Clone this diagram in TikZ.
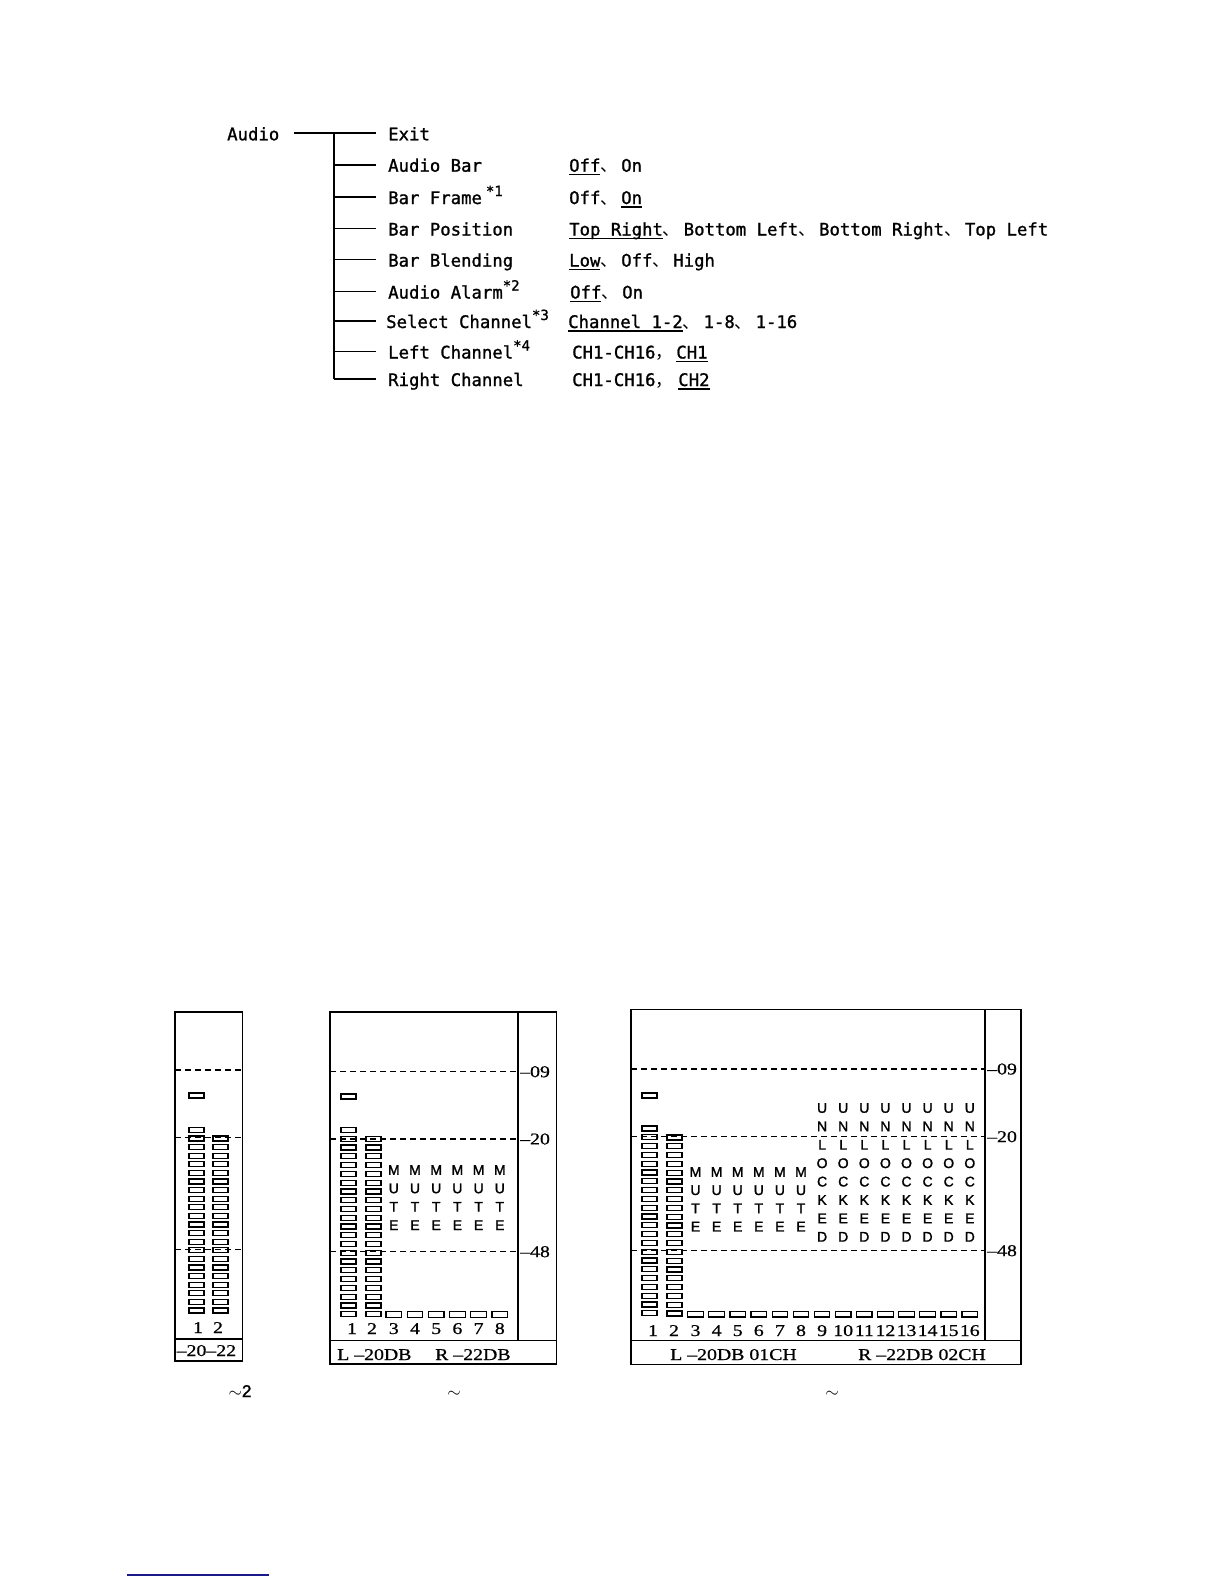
\documentclass[tikz,border=0pt]{standalone}
\usepackage{fontspec}
\usepackage{graphicx}
\newfontfamily\mono{DejaVu Sans Mono}[FakeBold=1.2]
\newfontfamily\cjk{Noto Sans CJK SC}
\newfontfamily\dser{Liberation Serif}[FakeBold=0.6]
\newfontfamily\dsans{Liberation Sans}[FakeBold=1.6]
\newcommand\ulx[1]{\leavevmode\setbox0\hbox{#1}\rlap{\rule[-3.6pt]{\wd0}{1.6pt}}\box0}
\newcommand\dun{\makebox[20.8pt][l]{\cjk 、}}
\newcommand\fcm{\makebox[20.8pt][l]{\cjk ，}}
\newcommand\sups[1]{\raisebox{8pt}{\fontsize{14}{14}\selectfont #1}}
\newcommand\dnum[1]{\scalebox{1.2}[1]{\dser\fontsize{16.5}{18}\selectfont #1}}
\definecolor{navyline}{RGB}{25,25,140}
\tikzset{
  menu/.style={font=\mono\fontsize{17.3}{20}\selectfont, inner sep=0, anchor=base west},
  tree/.style={line width=1.6pt},
  frame/.style={line width=1.3pt},
  dashln/.style={line width=1.1pt, dash pattern=on 6pt off 4pt},
  seg/.style={line width=1.2pt},
  num/.style={inner sep=0, anchor=base},
  lett/.style={inner sep=0, font=\dsans\fontsize{14}{14}\selectfont},
  scl/.style={inner sep=0, anchor=west},
  foot/.style={inner sep=0, anchor=base west},
}
\begin{document}
\begin{tikzpicture}[x=1pt,y=-1pt]
\useasboundingbox (0,0) rectangle (1224,1584);
\fill[white] (0,0) rectangle (1224,1584);

% ---------------- menu tree ----------------
\node[menu] (audio) at (227,140.3) {Audio};
\coordinate (h0) at (294,133.3);
\coordinate (j0) at (334,133.3);
\coordinate (jend) at (334,379);
\draw[tree] (h0) -- (376,133.3);
\draw[tree] (j0) -- (jend);
\foreach \yy [count=\n] in {164.7,197,228.5,259.6,291.5,321,351.5,379}{
  \coordinate (b\n) at (334,\yy);
  \coordinate (e\n) at (376,\yy);
  \draw[tree] (b\n) -- (e\n);
}
\node[menu] (exit) at (388,140.3) {Exit};
\node[menu] (l1) at (388,171.7) {Audio Bar};
\node[menu] (l2) at (388,204) {Bar Frame\hspace{4pt}\sups{*1}};
\node[menu] (l3) at (388,235.5) {Bar Position};
\node[menu] (l4) at (388,266.6) {Bar Blending};
\node[menu] (l5) at (388,298.5) {Audio Alarm\sups{*2}};
\node[menu] (l6) at (386,328) {Select Channel\sups{*3}};
\node[menu] (l7) at (388,358.5) {Left Channel\sups{*4}};
\node[menu] (l8) at (388,386) {Right Channel};

\node[menu] (v1) at (569,171.7) {\ulx{Off}\dun On};
\node[menu] (v2) at (569,204) {Off\dun\ulx{On}};
\node[menu] (v3) at (569,235.5) {\ulx{Top Right}\dun Bottom Left\dun Bottom Right\dun Top Left};
\node[menu] (v4) at (569,266.6) {\ulx{Low}\dun Off\dun High};
\node[menu] (v5) at (570,298.5) {\ulx{Off}\dun On};
\node[menu] (v6) at (568,328) {\ulx{Channel 1-2}\dun 1-8\dun 1-16};
\node[menu] (v7) at (572,358.5) {CH1-CH16\fcm\ulx{CH1}};
\node[menu] (v8) at (572,386) {CH1-CH16\fcm\hspace{2pt}\ulx{CH2}};

% ---------------- diagram 1 ----------------
\draw[frame] (175,1012) rectangle (242.5,1361);
\draw[frame] (175,1339) -- (242.5,1339);
\foreach \yy in {1070,1137.5,1249.6}{ \draw[dashln] (175,\yy) -- (242.5,\yy); }
\draw[seg] (189,1093) rectangle ++(15,5);
\foreach \i in {0,...,21}{ \draw[seg] (189,{1127.4+\i*8.6}) rectangle ++(15,5); }
\foreach \i in {0,...,20}{ \draw[seg] (213,{1136+\i*8.6}) rectangle ++(15,5); }
\node[num] (a1n1) at (198,1333) {\dnum{1}};
\node[num] (a1n2) at (218,1333) {\dnum{2}};
\node[foot] (a1f) at (176.5,1356) {\dnum{–20–22}};
\node[inner sep=0, anchor=base] (a1t) at (240,1397) {\fontsize{18}{18}\selectfont$\sim$\dsans\fontsize{17}{18}\selectfont 2};

% ---------------- diagram 2 ----------------
\draw[frame] (330,1012) rectangle (556.6,1364);
\draw[frame] (330,1340.5) -- (556.6,1340.5);
\draw[frame] (518,1012) -- (518,1340.5);
\foreach \yy in {1071.7,1139,1251.7}{ \draw[dashln] (330,\yy) -- (518,\yy); }
\node[scl] (a2s1) at (520,1071.7) {\dnum{–09}};
\node[scl] (a2s2) at (520,1139) {\dnum{–20}};
\node[scl] (a2s3) at (520,1251.7) {\dnum{–48}};
\draw[seg] (341,1094) rectangle ++(15,5);
\foreach \i in {0,...,21}{ \draw[seg] (341,{1127.5+\i*8.77}) rectangle ++(15,5); }
\foreach \i in {0,...,20}{ \draw[seg] (366,{1136.3+\i*8.77}) rectangle ++(15,5); }
\foreach \k in {3,...,8}{
  \draw[seg] ({386+(\k-3)*21.2},1311.7) rectangle ++(15.5,5.5);
  \node[num] (a2n\k) at ({386+(\k-3)*21.2+7.8},1334) {\dnum{\k}};
  \foreach \L [count=\j] in {M,U,T,E}{
    \node[lett] (a2m-\k-\j) at ({386+(\k-3)*21.2+7.8},{1170+(\j-1)*18.4}) {\L};
  }
}
\node[num] (a2n1) at (352,1334) {\dnum{1}};
\node[num] (a2n2) at (372,1334) {\dnum{2}};
\node[foot] (a2fl) at (337,1360) {\dnum{L –20DB}};
\node[foot] (a2fr) at (435,1360) {\dnum{R –22DB}};
\node[inner sep=0, anchor=base] (a2t) at (454,1397) {\fontsize{18}{18}\selectfont$\sim$};

% ---------------- diagram 3 ----------------
\draw[frame] (631,1009.5) rectangle (1021,1364.5);
\draw[frame] (631,1340.7) -- (1021,1340.7);
\draw[frame] (985,1009.5) -- (985,1340.7);
\foreach \yy in {1069,1136.7,1250.7}{ \draw[dashln] (631,\yy) -- (985,\yy); }
\node[scl] (a3s1) at (987,1069) {\dnum{–09}};
\node[scl] (a3s2) at (987,1136.7) {\dnum{–20}};
\node[scl] (a3s3) at (987,1250.7) {\dnum{–48}};
\draw[seg] (642,1093) rectangle ++(15,5);
\foreach \i in {0,...,21}{ \draw[seg] (642,{1126+\i*8.8}) rectangle ++(15,5); }
\foreach \i in {0,...,20}{ \draw[seg] (667,{1135+\i*8.8}) rectangle ++(15,5); }
\foreach \k in {3,...,16}{
  \draw[seg] ({687.7+(\k-3)*21.1},1311.5) rectangle ++(15.5,5.5);
  \node[num] (a3n\k) at ({687.7+(\k-3)*21.1+7.8},1336) {\dnum{\k}};
}
\foreach \k in {3,...,8}{
  \foreach \L [count=\j] in {M,U,T,E}{
    \node[lett] (a3m-\k-\j) at ({687.7+(\k-3)*21.1+7.8},{1172+(\j-1)*18.2}) {\L};
  }
}
\foreach \k in {9,...,16}{
  \foreach \L [count=\j] in {U,N,L,O,C,K,E,D}{
    \node[lett] (a3u-\k-\j) at ({687.7+(\k-3)*21.1+7.8},{1108+(\j-1)*18.4}) {\L};
  }
}
\node[num] (a3n1) at (653,1336) {\dnum{1}};
\node[num] (a3n2) at (674,1336) {\dnum{2}};
\node[foot] (a3fl) at (670,1360) {\dnum{L –20DB 01CH}};
\node[foot] (a3fr) at (858,1360) {\dnum{R –22DB 02CH}};
\node[inner sep=0, anchor=base] (a3t) at (832,1397) {\fontsize{18}{18}\selectfont$\sim$};

% ---------------- bottom line ----------------
\coordinate (bl1) at (127,1575);
\coordinate (bl2) at (269,1575);
\draw[navyline, line width=1.5pt] (bl1) -- (bl2);
\end{tikzpicture}
\end{document}
